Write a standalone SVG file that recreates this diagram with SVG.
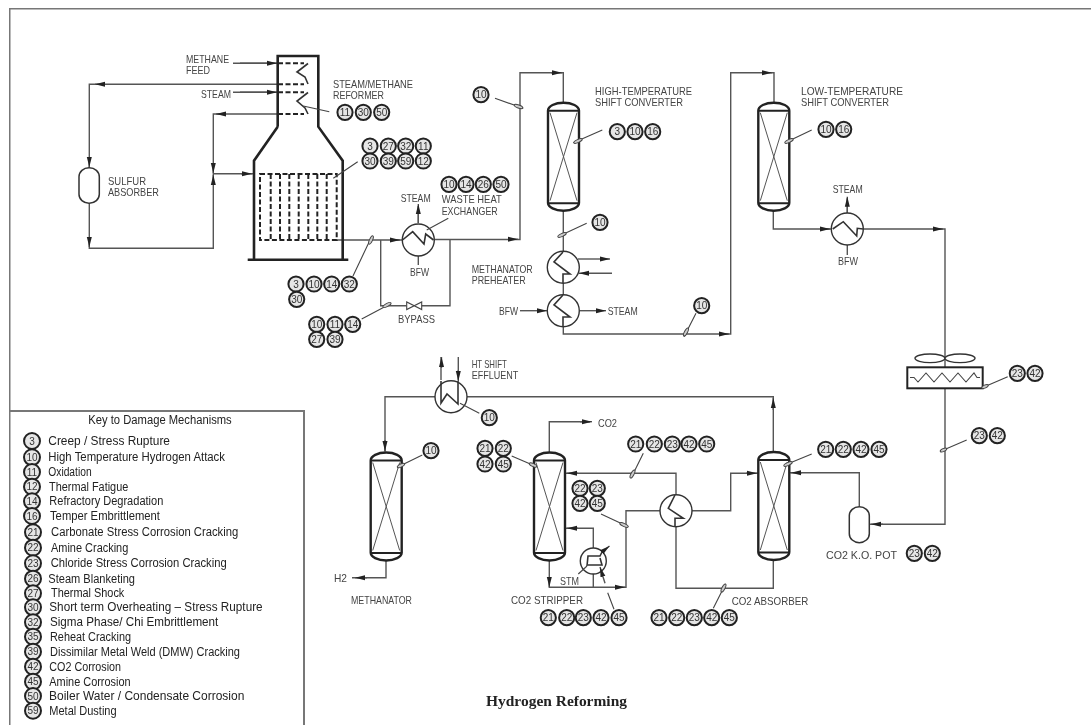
<svg xmlns="http://www.w3.org/2000/svg" xmlns:xlink="http://www.w3.org/1999/xlink" width="1091" height="725" viewBox="0 0 1091 725">
<style>
.ln{fill:none;stroke:#555;stroke-width:1.4}
.ld{fill:none;stroke:#444;stroke-width:1.1}
.hv{fill:none;stroke:#222;stroke-width:2.6}
.ds{fill:none;stroke:#222;stroke-width:2;stroke-dasharray:5 2.5}
.he{fill:#fff;stroke:#333;stroke-width:1.4}
.zz{fill:none;stroke:#333;stroke-width:1.6}
.tk{fill:#ccc;stroke:#444;stroke-width:1}
.bub{fill:#e6e6e6;stroke:#222;stroke-width:2}
.bt{font:10px "Liberation Sans",Arial,sans-serif;fill:#333;text-anchor:middle}
.lb{font:11px "Liberation Sans",Arial,sans-serif;fill:#444}
.ky{font:12.5px "Liberation Sans",Arial,sans-serif;fill:#222}
.ttl{font:bold 14px "Liberation Serif","Times New Roman",serif;fill:#222}
.ar{fill:none;stroke:#555;stroke-width:1.4;marker-end:url(#ah)}
</style>
<defs>
<marker id="ah" markerUnits="userSpaceOnUse" markerWidth="11" markerHeight="7" refX="10" refY="3" orient="auto"><path d="M0 0.5L10 3L0 5.5Z" fill="#222"/></marker>
<filter id="soft" x="0" y="0" width="100%" height="100%"><feGaussianBlur stdDeviation="0.4"/></filter>
<g id="vessel"><path d="M0 8A15.5 8 0 0 1 31 8V100A15.5 8 0 0 1 0 100Z" fill="#fff" stroke="#222" stroke-width="2.4"/><path d="M0 8H31M0 100.5H31" fill="none" stroke="#222" stroke-width="2"/><path d="M2 10L29 98M29 10L2 98" fill="none" stroke="#555" stroke-width="1"/></g>
</defs>
<rect width="1091" height="725" fill="#fff"/>
<g filter="url(#soft)">
<g id="frame"><path d="M9.5 725V8.5H1091" fill="none" stroke="#777" stroke-width="2"/></g>

<g id="connectors">
<path class="ln" d="M278 84.3H89.3V167.7M89.3 203.3V248.3H213.3V114H278M213.3 173.7H254M233 63.3H277M233 92.3H277"/>
<path class="ar" d="M240 63.3H277"/><path class="ar" d="M240 92.3H277"/><path class="ar" d="M105 84.3H95"/><path class="ar" d="M89.3 158V167"/><path class="ar" d="M89.3 238V247"/><path class="ar" d="M226 114H216"/><path class="ar" d="M213.3 163V173"/><path class="ar" d="M213.3 184V175"/><path class="ar" d="M241 173.7H252"/>
<path class="ln" d="M336 240H402M380.7 240V305.7H406.7M421.7 305.7H450V239.5M418.3 223V206M418.3 253V265"/>
<path class="ar" d="M390 240H400"/><path class="ar" d="M418.3 223V204"/>
<path class="ln" d="M434 239.5H520V72.7H563.3V102.7M563.3 210.7V251.3M563.3 283V295M563.3 326V334H730.7V72.7H774V102.7"/>
<path class="ar" d="M508 239.3H518"/><path class="ar" d="M551 72.7H562"/><path class="ar" d="M719 334H729"/><path class="ar" d="M762 72.7H772"/>
<path class="ar" d="M578 259H610"/><path class="ar" d="M612 273.3H579"/><path class="ar" d="M520 310.7H547"/><path class="ar" d="M580 310.7H606"/>
<path class="ln" d="M773.3 211V229H831M863.5 229H945V367M945 388.3V524.3H870M859.3 506.7V472.7H790M847.3 214.3V198M847.3 244V255"/>
<path class="ar" d="M820 229H830"/><path class="ar" d="M933 229H943"/><path class="ar" d="M847.3 214V196.7"/><path class="ar" d="M883 524.3H871"/><path class="ar" d="M802 472.7H791"/>
<path class="ln" d="M773.3 451.7V396.7H467M435 396.7H385V451.7M386 560V577.7H352M441 357V380M458.3 357V380"/>
<path class="ar" d="M773.3 410V398"/><path class="ar" d="M385 440V451"/><path class="ar" d="M441.5 368V357"/><path class="ar" d="M458.3 370V381"/><path class="ar" d="M367 577.7H355"/>
<path class="ln" d="M549.3 452.7V421.7H590M565 473.3H676V494.7M660 510.7H626V587.3H549.3V560M593.3 587.3V528.3H565M692 510.7H730.7V473.3H758M676 526.7V588.3H773.3V560"/>
<path class="ar" d="M580 421.7H592"/><path class="ar" d="M578 473.3H567"/><path class="ar" d="M578 528.3H567"/><path class="ar" d="M549.3 578V587"/><path class="ar" d="M615 587.3H625"/><path class="ar" d="M746 473.3H757"/>
</g>

<g id="reformer">
<path class="hv" d="M277.7 126.7V56H318.3V126.7L342.7 160.7V259M277.7 126.7L254 160.7V259M247.7 259.7H348.3"/>
<path class="ds" d="M278 63.3H304M278 84.3H304M278 92.3H304M278 114H304"/>
<path class="zz" d="M308 63.5L297 72L305 77L308 84M308 92.5L297 101L305 108L308 114"/>
<path class="ds" d="M260 174H336.7V240H260ZM270.7 174V240M280 174V240M289.3 174V240M298.7 174V240M308.3 174V240M317.3 174V240M326.7 174V240"/>
<text class="lb" x="186" y="63" textLength="43" lengthAdjust="spacingAndGlyphs">METHANE</text>
<text class="lb" x="186" y="74" textLength="24" lengthAdjust="spacingAndGlyphs">FEED</text>
<text class="lb" x="201" y="98" textLength="30" lengthAdjust="spacingAndGlyphs">STEAM</text>
<text class="lb" x="333" y="87.7" textLength="80" lengthAdjust="spacingAndGlyphs">STEAM/METHANE</text>
<text class="lb" x="333" y="99" textLength="51" lengthAdjust="spacingAndGlyphs">REFORMER</text>
</g>

<g id="sulfur-absorber">
<rect x="79" y="167.7" width="20.3" height="35.6" rx="10" ry="9" fill="#fff" stroke="#333" stroke-width="1.5"/>
<text class="lb" x="108" y="185" textLength="38" lengthAdjust="spacingAndGlyphs">SULFUR</text>
<text class="lb" x="108" y="195.7" textLength="51" lengthAdjust="spacingAndGlyphs">ABSORBER</text>
</g>

<g id="waste-heat-exchanger">
<circle class="he" cx="418.3" cy="240" r="16"/>
<path class="zz" d="M402.5 240L412.7 231.7L424 244L425.7 234L433.5 240"/>
<text class="lb" x="400.7" y="201.7" textLength="30" lengthAdjust="spacingAndGlyphs">STEAM</text>
<text class="lb" x="410" y="275.7" textLength="19" lengthAdjust="spacingAndGlyphs">BFW</text>
<text class="lb" x="441.7" y="203.3" textLength="60" lengthAdjust="spacingAndGlyphs">WASTE HEAT</text>
<text class="lb" x="441.7" y="215" textLength="56" lengthAdjust="spacingAndGlyphs">EXCHANGER</text>
</g>

<g id="bypass">
<path d="M406.7 302V309.5L421.7 302V309.5Z" fill="#fff" stroke="#444" stroke-width="1.1"/>
<text class="lb" x="398" y="323.3" textLength="37" lengthAdjust="spacingAndGlyphs">BYPASS</text>
</g>

<g id="ht-shift-converter">
<use xlink:href="#vessel" href="#vessel" transform="translate(548 102.7)"/>
<text class="lb" x="595" y="95" textLength="97" lengthAdjust="spacingAndGlyphs">HIGH-TEMPERATURE</text>
<text class="lb" x="595" y="106" textLength="88" lengthAdjust="spacingAndGlyphs">SHIFT CONVERTER</text>
</g>

<g id="methanator-preheater">
<circle class="he" cx="563.3" cy="267.3" r="16"/>
<path class="zz" d="M563 252L554 262L570 274H563V283"/>
<text class="lb" x="471.7" y="273.3" textLength="61" lengthAdjust="spacingAndGlyphs">METHANATOR</text>
<text class="lb" x="471.7" y="284.3" textLength="54" lengthAdjust="spacingAndGlyphs">PREHEATER</text>
</g>

<g id="steam-generator">
<circle class="he" cx="563.3" cy="310.7" r="16"/>
<path class="zz" d="M563 295L554 305L570 317H563V326"/>
<text class="lb" x="499" y="315" textLength="19" lengthAdjust="spacingAndGlyphs">BFW</text>
<text class="lb" x="607.7" y="315" textLength="30" lengthAdjust="spacingAndGlyphs">STEAM</text>
</g>

<g id="lt-shift-converter">
<use xlink:href="#vessel" href="#vessel" transform="translate(758.3 102.7)"/>
<text class="lb" x="801" y="95" textLength="102" lengthAdjust="spacingAndGlyphs">LOW-TEMPERATURE</text>
<text class="lb" x="801" y="106" textLength="88" lengthAdjust="spacingAndGlyphs">SHIFT CONVERTER</text>
</g>

<g id="lt-exchanger">
<circle class="he" cx="847.3" cy="229" r="16"/>
<path class="zz" d="M832.7 229L843.3 221.7L856.7 236L857.3 228.3L863 229"/>
<text class="lb" x="832.7" y="192.7" textLength="30" lengthAdjust="spacingAndGlyphs">STEAM</text>
<text class="lb" x="838" y="265" textLength="20" lengthAdjust="spacingAndGlyphs">BFW</text>
</g>

<g id="air-cooler">
<ellipse class="he" cx="930" cy="358.3" rx="15" ry="4.3" stroke-width="1"/>
<ellipse class="he" cx="960" cy="358.3" rx="15" ry="4.3" stroke-width="1"/>
<rect x="907.3" y="367.3" width="75.4" height="21" fill="#fff" stroke="#222" stroke-width="2"/>
<path class="ld" d="M910 377.5H914L918 382L926 373L934 382L942 373L950 382L958 373L966 382L974 373L977 377.5H980"/>
</g>

<g id="ko-pot">
<rect x="849.3" y="506.7" width="20" height="36" rx="10" ry="9" fill="#fff" stroke="#333" stroke-width="1.5"/>
<text class="lb" x="826" y="559.3" textLength="71" lengthAdjust="spacingAndGlyphs">CO2 K.O. POT</text>
</g>

<g id="co2-absorber">
<use xlink:href="#vessel" href="#vessel" transform="translate(758.3 452)"/>
<text class="lb" x="731.7" y="605" textLength="76.6" lengthAdjust="spacingAndGlyphs">CO2 ABSORBER</text>
</g>

<g id="feed-effluent-exchanger">
<circle class="he" cx="451" cy="396.7" r="16"/>
<path class="zz" d="M441 381V403L447 394L458 404V381"/>
<text class="lb" x="471.7" y="368.3" textLength="35" lengthAdjust="spacingAndGlyphs">HT SHIFT</text>
<text class="lb" x="471.7" y="379.3" textLength="46.6" lengthAdjust="spacingAndGlyphs">EFFLUENT</text>
</g>

<g id="methanator">
<use xlink:href="#vessel" href="#vessel" transform="translate(370.7 452.5)"/>
<text class="lb" x="334" y="582" textLength="13" lengthAdjust="spacingAndGlyphs">H2</text>
<text class="lb" x="351" y="604" textLength="61" lengthAdjust="spacingAndGlyphs">METHANATOR</text>
</g>

<g id="co2-stripper">
<use xlink:href="#vessel" href="#vessel" transform="translate(534 452.5)"/>
<text class="lb" x="598" y="426.7" textLength="19" lengthAdjust="spacingAndGlyphs">CO2</text>
<text class="lb" x="511" y="604.3" textLength="72" lengthAdjust="spacingAndGlyphs">CO2 STRIPPER</text>
</g>

<g id="lean-rich-exchanger">
<circle class="he" cx="676" cy="510.7" r="16"/>
<path class="zz" d="M675 495L668.3 508.3L683.3 518.3H675V526"/>
</g>

<g id="reboiler">
<circle class="he" cx="593.3" cy="561" r="13"/>
<path class="zz" d="M587 566L588 556H600L603 550"/>
<path class="zz" d="M588 565H602L600 558"/>
<path class="ar" d="M602 552L609.5 546"/>
<path class="ar" d="M605 583.3L600 567"/>
<path class="ld" d="M578.3 574L587 566"/>
<text class="lb" x="560" y="585" textLength="19" lengthAdjust="spacingAndGlyphs">STM</text>
</g>

<g id="leaders">
<path class="ld" d="M329.3 111.7L303.3 106M357.7 161.7L333.3 178.3M371 238L353 276M390 304L361.7 319M448.3 218.3L426.7 230M495 98.3L523.3 108.3M602.3 130L573.3 142.7M586.7 223.3L559.3 236M696 313.3L684 336.7M811.7 130L785 142.7M1007.7 376.7L983.3 387.3M966.7 440L941.7 450.7M811.7 454L785 465M422.3 455L398.3 466.7M479.3 413.3L460 403.3M511.7 456L536.7 466.7M643.3 453.3L631.7 476.7M601 514L628.3 526.7M614 609.3L607.7 592.7M713.3 608.3L725 585"/>
<g class="tk"><ellipse cx="371" cy="240" rx="4.5" ry="1.5" transform="rotate(-65 371 240)"/><ellipse cx="387" cy="305" rx="4.5" ry="1.5" transform="rotate(-28 387 305)"/><ellipse cx="518.5" cy="106.5" rx="4.5" ry="1.5" transform="rotate(20 518.5 106.5)"/><ellipse cx="578" cy="141" rx="4.5" ry="1.5" transform="rotate(-24 578 141)"/><ellipse cx="562" cy="235" rx="4.5" ry="1.5" transform="rotate(-24 562 235)"/><ellipse cx="686" cy="332" rx="4.5" ry="1.5" transform="rotate(-62 686 332)"/><ellipse cx="789" cy="141" rx="4.5" ry="1.5" transform="rotate(-24 789 141)"/><ellipse cx="985" cy="386.5" rx="3.5" ry="1.5" transform="rotate(-24 985 386.5)"/><ellipse cx="943.5" cy="450" rx="3.5" ry="1.5" transform="rotate(-24 943.5 450)"/><ellipse cx="788" cy="464" rx="4.5" ry="1.5" transform="rotate(-24 788 464)"/><ellipse cx="401" cy="465.5" rx="4" ry="1.5" transform="rotate(-26 401 465.5)"/><ellipse cx="533" cy="465" rx="4" ry="1.5" transform="rotate(24 533 465)"/><ellipse cx="632.5" cy="474" rx="4.5" ry="1.5" transform="rotate(-63 632.5 474)"/><ellipse cx="624" cy="525" rx="4.5" ry="1.5" transform="rotate(24 624 525)"/><ellipse cx="723.5" cy="588" rx="4.5" ry="1.5" transform="rotate(-63 723.5 588)"/></g>
</g>

<g id="damage-tags">
<circle class="bub" cx="345" cy="112.3" r="7.6"/><text class="bt" x="345" y="116">11</text>
<circle class="bub" cx="363.3" cy="112.3" r="7.6"/><text class="bt" x="363.3" y="116">30</text>
<circle class="bub" cx="381.7" cy="112.3" r="7.6"/><text class="bt" x="381.7" y="116">50</text>
<circle class="bub" cx="370" cy="146" r="7.6"/><text class="bt" x="370" y="149.6">3</text>
<circle class="bub" cx="388.3" cy="146" r="7.6"/><text class="bt" x="388.3" y="149.6">27</text>
<circle class="bub" cx="405.7" cy="146" r="7.6"/><text class="bt" x="405.7" y="149.6">32</text>
<circle class="bub" cx="423.3" cy="146" r="7.6"/><text class="bt" x="423.3" y="149.6">11</text>
<circle class="bub" cx="370" cy="161" r="7.6"/><text class="bt" x="370" y="164.6">30</text>
<circle class="bub" cx="388.3" cy="161" r="7.6"/><text class="bt" x="388.3" y="164.6">39</text>
<circle class="bub" cx="405.7" cy="161" r="7.6"/><text class="bt" x="405.7" y="164.6">59</text>
<circle class="bub" cx="423.3" cy="161" r="7.6"/><text class="bt" x="423.3" y="164.6">12</text>
<circle class="bub" cx="296" cy="284" r="7.6"/><text class="bt" x="296" y="287.6">3</text>
<circle class="bub" cx="314" cy="284" r="7.6"/><text class="bt" x="314" y="287.6">10</text>
<circle class="bub" cx="331.7" cy="284" r="7.6"/><text class="bt" x="331.7" y="287.6">14</text>
<circle class="bub" cx="349.3" cy="284" r="7.6"/><text class="bt" x="349.3" y="287.6">32</text>
<circle class="bub" cx="296.7" cy="299.3" r="7.6"/><text class="bt" x="296.7" y="303">30</text>
<circle class="bub" cx="316.7" cy="324.3" r="7.6"/><text class="bt" x="316.7" y="328">10</text>
<circle class="bub" cx="335" cy="324.3" r="7.6"/><text class="bt" x="335" y="328">11</text>
<circle class="bub" cx="352.7" cy="324.3" r="7.6"/><text class="bt" x="352.7" y="328">14</text>
<circle class="bub" cx="316.7" cy="339.3" r="7.6"/><text class="bt" x="316.7" y="343">27</text>
<circle class="bub" cx="335" cy="339.3" r="7.6"/><text class="bt" x="335" y="343">39</text>
<circle class="bub" cx="449" cy="184.3" r="7.6"/><text class="bt" x="449" y="188">10</text>
<circle class="bub" cx="466" cy="184.3" r="7.6"/><text class="bt" x="466" y="188">14</text>
<circle class="bub" cx="483.3" cy="184.3" r="7.6"/><text class="bt" x="483.3" y="188">26</text>
<circle class="bub" cx="501" cy="184.3" r="7.6"/><text class="bt" x="501" y="188">50</text>
<circle class="bub" cx="481" cy="94.7" r="7.6"/><text class="bt" x="481" y="98.3">10</text>
<circle class="bub" cx="617.3" cy="131.7" r="7.6"/><text class="bt" x="617.3" y="135.3">3</text>
<circle class="bub" cx="635" cy="131.7" r="7.6"/><text class="bt" x="635" y="135.3">10</text>
<circle class="bub" cx="652.7" cy="131.7" r="7.6"/><text class="bt" x="652.7" y="135.3">16</text>
<circle class="bub" cx="600" cy="222.3" r="7.6"/><text class="bt" x="600" y="226">10</text>
<circle class="bub" cx="701.7" cy="305.7" r="7.6"/><text class="bt" x="701.7" y="309.3">10</text>
<circle class="bub" cx="826" cy="129.3" r="7.6"/><text class="bt" x="826" y="133">10</text>
<circle class="bub" cx="843.7" cy="129.3" r="7.6"/><text class="bt" x="843.7" y="133">16</text>
<circle class="bub" cx="1017.3" cy="373.3" r="7.6"/><text class="bt" x="1017.3" y="377">23</text>
<circle class="bub" cx="1035" cy="373.3" r="7.6"/><text class="bt" x="1035" y="377">42</text>
<circle class="bub" cx="979.3" cy="435.7" r="7.6"/><text class="bt" x="979.3" y="439.3">23</text>
<circle class="bub" cx="997.3" cy="435.7" r="7.6"/><text class="bt" x="997.3" y="439.3">42</text>
<circle class="bub" cx="914.3" cy="553.3" r="7.6"/><text class="bt" x="914.3" y="557">23</text>
<circle class="bub" cx="932.3" cy="553.3" r="7.6"/><text class="bt" x="932.3" y="557">42</text>
<circle class="bub" cx="825.7" cy="449.3" r="7.6"/><text class="bt" x="825.7" y="453">21</text>
<circle class="bub" cx="843.3" cy="449.3" r="7.6"/><text class="bt" x="843.3" y="453">22</text>
<circle class="bub" cx="861" cy="449.3" r="7.6"/><text class="bt" x="861" y="453">42</text>
<circle class="bub" cx="879" cy="449.3" r="7.6"/><text class="bt" x="879" y="453">45</text>
<circle class="bub" cx="489.3" cy="417.7" r="7.6"/><text class="bt" x="489.3" y="421.3">10</text>
<circle class="bub" cx="431" cy="450.7" r="7.6"/><text class="bt" x="431" y="454.3">10</text>
<circle class="bub" cx="485" cy="448.3" r="7.6"/><text class="bt" x="485" y="452">21</text>
<circle class="bub" cx="503.3" cy="448.3" r="7.6"/><text class="bt" x="503.3" y="452">22</text>
<circle class="bub" cx="485" cy="464" r="7.6"/><text class="bt" x="485" y="467.6">42</text>
<circle class="bub" cx="503.3" cy="464" r="7.6"/><text class="bt" x="503.3" y="467.6">45</text>
<circle class="bub" cx="635.7" cy="444" r="7.6"/><text class="bt" x="635.7" y="447.6">21</text>
<circle class="bub" cx="654.3" cy="444" r="7.6"/><text class="bt" x="654.3" y="447.6">22</text>
<circle class="bub" cx="672.3" cy="444" r="7.6"/><text class="bt" x="672.3" y="447.6">23</text>
<circle class="bub" cx="689" cy="444" r="7.6"/><text class="bt" x="689" y="447.6">42</text>
<circle class="bub" cx="706.7" cy="444" r="7.6"/><text class="bt" x="706.7" y="447.6">45</text>
<circle class="bub" cx="580" cy="488.3" r="7.6"/><text class="bt" x="580" y="492">22</text>
<circle class="bub" cx="597.3" cy="488.3" r="7.6"/><text class="bt" x="597.3" y="492">23</text>
<circle class="bub" cx="580" cy="503.3" r="7.6"/><text class="bt" x="580" y="507">42</text>
<circle class="bub" cx="597.3" cy="503.3" r="7.6"/><text class="bt" x="597.3" y="507">45</text>
<circle class="bub" cx="548.3" cy="617.7" r="7.6"/><text class="bt" x="548.3" y="621.3">21</text>
<circle class="bub" cx="566.7" cy="617.7" r="7.6"/><text class="bt" x="566.7" y="621.3">22</text>
<circle class="bub" cx="583.3" cy="617.7" r="7.6"/><text class="bt" x="583.3" y="621.3">23</text>
<circle class="bub" cx="601" cy="617.7" r="7.6"/><text class="bt" x="601" y="621.3">42</text>
<circle class="bub" cx="619" cy="617.7" r="7.6"/><text class="bt" x="619" y="621.3">45</text>
<circle class="bub" cx="659" cy="617.7" r="7.6"/><text class="bt" x="659" y="621.3">21</text>
<circle class="bub" cx="676.7" cy="617.7" r="7.6"/><text class="bt" x="676.7" y="621.3">22</text>
<circle class="bub" cx="694.3" cy="617.7" r="7.6"/><text class="bt" x="694.3" y="621.3">23</text>
<circle class="bub" cx="711.7" cy="617.7" r="7.6"/><text class="bt" x="711.7" y="621.3">42</text>
<circle class="bub" cx="729.3" cy="617.7" r="7.6"/><text class="bt" x="729.3" y="621.3">45</text>
</g>

<g id="key">
<path d="M10 411H304V725" fill="none" stroke="#777" stroke-width="2"/>
<text class="ky" x="88.3" y="424" textLength="143.4" lengthAdjust="spacingAndGlyphs">Key to Damage Mechanisms</text>
<g>
<circle class="bub" cx="32" cy="441" r="8"/><text class="bt" x="32" y="444.6">3</text><text class="ky" x="48.3" y="445" textLength="121.7" lengthAdjust="spacingAndGlyphs">Creep / Stress Rupture</text>
<circle class="bub" cx="32" cy="457.3" r="8"/><text class="bt" x="32" y="461">10</text><text class="ky" x="48.3" y="461.3" textLength="176.7" lengthAdjust="spacingAndGlyphs">High Temperature Hydrogen Attack</text>
<circle class="bub" cx="32" cy="472" r="8"/><text class="bt" x="32" y="475.6">11</text><text class="ky" x="48.3" y="476" textLength="43.3" lengthAdjust="spacingAndGlyphs">Oxidation</text>
<circle class="bub" cx="32" cy="486.7" r="8"/><text class="bt" x="32" y="490.3">12</text><text class="ky" x="49" y="490.7" textLength="79.3" lengthAdjust="spacingAndGlyphs">Thermal Fatigue</text>
<circle class="bub" cx="32" cy="501.3" r="8"/><text class="bt" x="32" y="505">14</text><text class="ky" x="49.3" y="505.3" textLength="114" lengthAdjust="spacingAndGlyphs">Refractory Degradation</text>
<circle class="bub" cx="32" cy="516" r="8"/><text class="bt" x="32" y="519.6">16</text><text class="ky" x="50" y="520" textLength="110" lengthAdjust="spacingAndGlyphs">Temper Embrittlement</text>
<circle class="bub" cx="33" cy="532.3" r="8"/><text class="bt" x="33" y="536">21</text><text class="ky" x="51" y="536.3" textLength="187.3" lengthAdjust="spacingAndGlyphs">Carbonate Stress Corrosion Cracking</text>
<circle class="bub" cx="33" cy="547.7" r="8"/><text class="bt" x="33" y="551.3">22</text><text class="ky" x="51" y="551.7" textLength="77.3" lengthAdjust="spacingAndGlyphs">Amine Cracking</text>
<circle class="bub" cx="33" cy="563.3" r="8"/><text class="bt" x="33" y="567">23</text><text class="ky" x="50.7" y="567.3" textLength="176" lengthAdjust="spacingAndGlyphs">Chloride Stress Corrosion Cracking</text>
<circle class="bub" cx="33" cy="578.7" r="8"/><text class="bt" x="33" y="582.3">26</text><text class="ky" x="48.3" y="582.7" textLength="86.7" lengthAdjust="spacingAndGlyphs">Steam Blanketing</text>
<circle class="bub" cx="33" cy="593.3" r="8"/><text class="bt" x="33" y="597">27</text><text class="ky" x="51" y="597.3" textLength="73.3" lengthAdjust="spacingAndGlyphs">Thermal Shock</text>
<circle class="bub" cx="33" cy="607.3" r="8"/><text class="bt" x="33" y="611">30</text><text class="ky" x="49.3" y="611.3" textLength="213.3" lengthAdjust="spacingAndGlyphs">Short term Overheating – Stress Rupture</text>
<circle class="bub" cx="33" cy="622.3" r="8"/><text class="bt" x="33" y="626">32</text><text class="ky" x="50" y="626.3" textLength="168.3" lengthAdjust="spacingAndGlyphs">Sigma Phase/ Chi Embrittlement</text>
<circle class="bub" cx="33" cy="636.7" r="8"/><text class="bt" x="33" y="640.3">35</text><text class="ky" x="50" y="640.7" textLength="81" lengthAdjust="spacingAndGlyphs">Reheat Cracking</text>
<circle class="bub" cx="33" cy="651.7" r="8"/><text class="bt" x="33" y="655.3">39</text><text class="ky" x="50" y="655.7" textLength="190" lengthAdjust="spacingAndGlyphs">Dissimilar Metal Weld (DMW) Cracking</text>
<circle class="bub" cx="33" cy="666.7" r="8"/><text class="bt" x="33" y="670.3">42</text><text class="ky" x="49.3" y="670.7" textLength="71.7" lengthAdjust="spacingAndGlyphs">CO2 Corrosion</text>
<circle class="bub" cx="33" cy="681.7" r="8"/><text class="bt" x="33" y="685.3">45</text><text class="ky" x="49.3" y="685.7" textLength="81.3" lengthAdjust="spacingAndGlyphs">Amine Corrosion</text>
<circle class="bub" cx="33" cy="696" r="8"/><text class="bt" x="33" y="699.6">50</text><text class="ky" x="49" y="700" textLength="195.3" lengthAdjust="spacingAndGlyphs">Boiler Water  / Condensate Corrosion</text>
<circle class="bub" cx="33" cy="710.7" r="8"/><text class="bt" x="33" y="714.3">59</text><text class="ky" x="49.3" y="714.7" textLength="67.3" lengthAdjust="spacingAndGlyphs">Metal Dusting</text>
</g>
</g>

<text class="ttl" x="486" y="706" textLength="141" lengthAdjust="spacingAndGlyphs">Hydrogen Reforming</text>
</g>
</svg>
